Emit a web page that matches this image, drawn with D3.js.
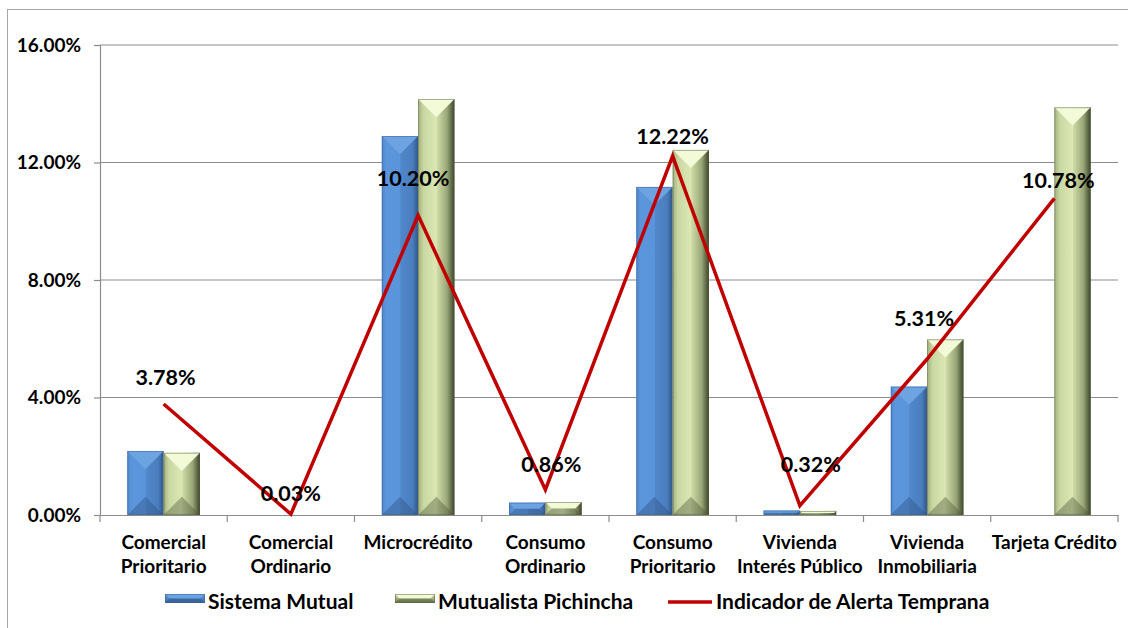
<!DOCTYPE html>
<html>
<head>
<meta charset="utf-8">
<script src="https://cdn.jsdelivr.net/npm/d3@7"></script>
<style>
  html, body { margin: 0; padding: 0; background: #fff; }
  svg text { font-family: Lato, "Open Sans", sans-serif; font-weight: bold; fill: #000; }
</style>
</head>
<body>
<svg id="chart" width="1128" height="628"></svg>
<script>
const categories = ["Comercial\nPrioritario", "Comercial\nOrdinario", "Microcrédito", "Consumo\nOrdinario",
                    "Consumo\nPrioritario", "Vivienda\nInterés Público", "Vivienda\nInmobiliaria", "Tarjeta Crédito"];
const sistemaMutual = [0.0218, 0, 0.1290, 0.0042, 0.1117, 0.0015, 0.0437, 0];
const mutualistaPichincha = [0.0212, 0, 0.1416, 0.0044, 0.1243, 0.0014, 0.0598, 0.1388];
const alertaTemprana = [0.0378, 0.0003, 0.1020, 0.0086, 0.1222, 0.0032, 0.0531, 0.1078];
const yTicks = [0, 0.04, 0.08, 0.12, 0.16];
const seriesNames = ["Sistema Mutual", "Mutualista Pichincha", "Indicador de Alerta Temprana"];
// label nudges (px) for the line's data labels: [dx, dy above point]
const labelNudge = [[2, 26], [0, 21], [-5, 37], [6, 25], [0, 20], [11, 41], [-3, 41], [4, 18]];

const svg = d3.select("#chart");
const M = { left: 100, right: 1118, top: 45, bottom: 515 };

// outer border
svg.append("rect").attr("x", 7.5).attr("y", 9.5).attr("width", 1130).attr("height", 640)
  .attr("fill", "none").attr("stroke", "#a6a6a6").attr("stroke-width", 1);

const x = d3.scaleBand().domain(categories).range([M.left, M.right]).paddingInner(0).paddingOuter(0);
const groupW = x.bandwidth() * 2 / 3.5;
const xs = d3.scaleBand().domain([0, 1]).range([0, groupW]);
const y = d3.scaleLinear().domain([0, 0.16]).range([M.bottom, M.top]);

// gradients
const defs = svg.append("defs");
function grad(id, stops, vertical) {
  const g = defs.append("linearGradient").attr("id", id).attr("x1", 0).attr("y1", 0)
    .attr("x2", vertical ? 0 : 1).attr("y2", vertical ? 1 : 0);
  stops.forEach(s => g.append("stop").attr("offset", s[0]).attr("stop-color", s[1]));
}
grad("gBlue", [[0, "#4f86c9"], [0.12, "#5b96dc"], [0.5, "#5a94da"], [0.52, "#5088cc"], [0.85, "#4a7dbd"], [1, "#2f5587"]]);
grad("gGreen", [[0, "#a2b07e"], [0.15, "#c9d7a2"], [0.5, "#dbe8b4"], [0.52, "#cfdca8"], [0.8, "#98a576"], [1, "#3b4329"]]);
grad("gBlueL", [[0, "#5b96dc"], [1, "#3d6aa6"]], true);
grad("gGreenL", [[0, "#d5e2ad"], [1, "#6f7a52"]], true);

const styles = [
  { fill: "url(#gBlue)", top: "#6ea3e2", topOp: 1, bot: "#2c4f7f", botOp: 0.4, stroke: "#3a6399" },
  { fill: "url(#gGreen)", top: "#f3fad8", topOp: 1, bot: "#4d5637", botOp: 0.4, stroke: "#58603f" }
];

function bevelBar(g, x0, y0, w, h, st) {
  if (h <= 0) return;
  const x1 = x0 + w, y1 = y0 + h;
  const d = Math.min(w / 2, h / 2);
  g.append("rect").attr("x", x0).attr("y", y0).attr("width", w).attr("height", h).attr("fill", st.fill);
  g.append("path").attr("d", `M${x0},${y0}L${x1},${y0}L${x1 - d},${y0 + d}L${x0 + d},${y0 + d}Z`)
    .attr("fill", st.top).attr("opacity", st.topOp);
  g.append("path").attr("d", `M${x0},${y1}L${x1},${y1}L${x1 - d},${y1 - d}L${x0 + d},${y1 - d}Z`)
    .attr("fill", st.bot).attr("opacity", st.botOp);
  g.append("rect").attr("x", x0 + 0.5).attr("y", y0 + 0.5).attr("width", w - 1).attr("height", Math.max(0, h - 1))
    .attr("fill", "none").attr("stroke", st.stroke).attr("stroke-width", 0.8).attr("opacity", 0.6);
}

// gridlines
svg.append("g").selectAll("line").data(yTicks.filter(t => t > 0)).join("line")
  .attr("x1", M.left).attr("x2", M.right).attr("y1", d => y(d)).attr("y2", d => y(d))
  .attr("stroke", "#8c8c8c").attr("stroke-width", 1.2);

// y axis
const yAxis = d3.axisLeft(y).tickValues(yTicks).tickFormat(d3.format(".2%")).tickSize(6).tickPadding(13);
const yg = svg.append("g").attr("transform", `translate(${M.left},0)`).call(yAxis);
yg.select(".domain").attr("stroke", "#8c8c8c").attr("stroke-width", 1.2);
yg.selectAll(".tick line").attr("stroke", "#8c8c8c").attr("stroke-width", 1.2);
yg.selectAll(".tick text").style("font-size", "19px").attr("fill", "#000");

// bars
const barG = svg.append("g");
[sistemaMutual, mutualistaPichincha].forEach((vals, si) => {
  vals.forEach((v, i) => {
    const cx = x(categories[i]) + x.bandwidth() / 2;
    const x0 = cx - groupW / 2 + xs(si);
    bevelBar(barG, x0, y(v), xs.bandwidth(), y(0) - y(v), styles[si]);
  });
});

// x axis
const xAxis = d3.axisBottom(x).tickSize(0).tickFormat("");
const xg = svg.append("g").attr("transform", `translate(0,${M.bottom})`).call(xAxis);
xg.select(".domain").attr("stroke", "#8c8c8c").attr("stroke-width", 1.2);
svg.append("g").selectAll("line").data(d3.range(categories.length + 1)).join("line")
  .attr("x1", i => M.left + i * x.bandwidth()).attr("x2", i => M.left + i * x.bandwidth())
  .attr("y1", M.bottom).attr("y2", M.bottom + 7).attr("stroke", "#8c8c8c").attr("stroke-width", 1.2);

// category labels
const catG = svg.append("g");
categories.forEach(c => {
  const t = catG.append("text").attr("text-anchor", "middle").style("font-size", "19px")
    .attr("transform", `translate(${x(c) + x.bandwidth() / 2},549)`);
  c.split("\n").forEach((line, j) => t.append("tspan").attr("x", 0).attr("y", j * 24).text(line));
});

// line
const lineGen = d3.line().x((d, i) => x(categories[i]) + x.bandwidth() / 2).y(d => y(d));
svg.append("path").datum(alertaTemprana).attr("d", lineGen)
  .attr("fill", "none").attr("stroke", "#c00000").attr("stroke-width", 3.5).attr("stroke-linejoin", "miter");

// data labels
svg.append("g").selectAll("text").data(alertaTemprana).join("text")
  .attr("x", (d, i) => x(categories[i]) + x.bandwidth() / 2 + labelNudge[i][0])
  .attr("y", (d, i) => y(d) - labelNudge[i][1])
  .attr("dy", "0.35em").attr("text-anchor", "middle").style("font-size", "21.5px")
  .text(d => d3.format(".2%")(d));

// legend
const lg = svg.append("g");
bevelBar(lg, 165, 594, 40, 9, { ...styles[0], fill: "url(#gBlueL)" });
bevelBar(lg, 395, 594, 40, 9, { ...styles[1], fill: "url(#gGreenL)" });
lg.append("line").attr("x1", 668).attr("x2", 712).attr("y1", 602).attr("y2", 602)
  .attr("stroke", "#c00000").attr("stroke-width", 3.5);
[[208, 0], [438, 1], [716, 2]].forEach(([lx, k]) =>
  lg.append("text").attr("x", lx).attr("y", 602).attr("dy", "0.35em").style("font-size", "21px").text(seriesNames[k]));
</script>
</body>
</html>
